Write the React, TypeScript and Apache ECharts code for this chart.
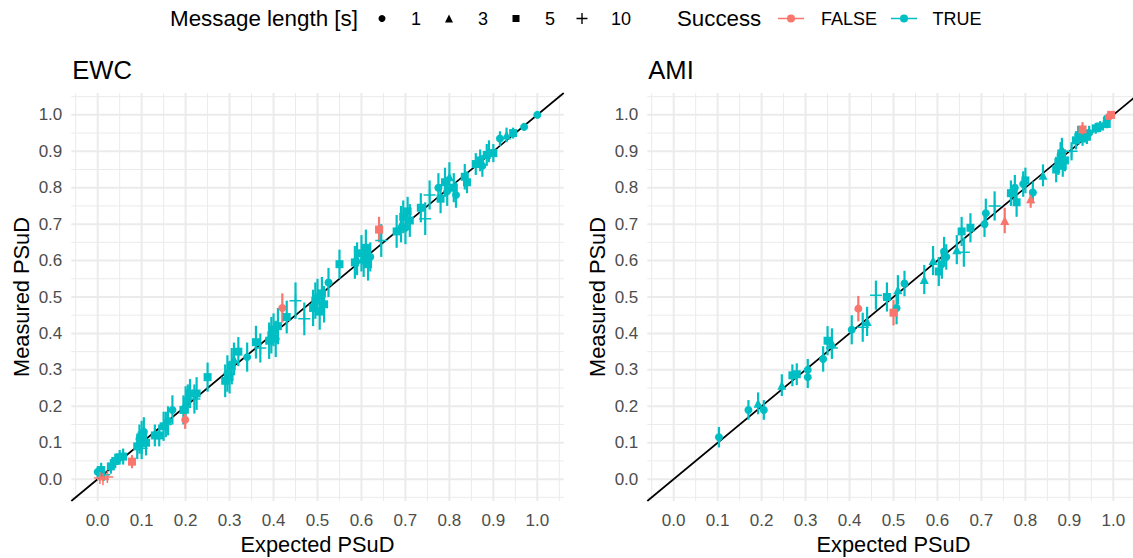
import React, { useEffect, useRef } from 'react';
import * as echarts from 'echarts';

const TEAL = '#00BFC4';
const RED = '#F8766D';
const FONT = '"Liberation Sans", Arial, Helvetica, sans-serif';

const axisMin = -0.06;
const axisMax = 1.06;
const majorTicks = [0, 0.1, 0.2, 0.3, 0.4, 0.5, 0.6, 0.7, 0.8, 0.9, 1.0];
const minorTicks = [-0.05, 0.05, 0.15, 0.25, 0.35, 0.45, 0.55, 0.65, 0.75, 0.85, 0.95, 1.05];
const panelTitles = ['EWC', 'AMI'];
const lengthLabels = ['1', '3', '5', '10'];
const successLabels = ['FALSE', 'TRUE'];

// [expected PSuD, measured PSuD, CI half-width, success (1 = TRUE, 0 = FALSE)]
const ewcLen1 = [
  [0.0, 0.02, 0.015, 1], [0.095, 0.11, 0.04, 1], [0.105, 0.13, 0.04, 1], [0.16, 0.16, 0.04, 1],
  [0.17, 0.19, 0.04, 1], [0.205, 0.22, 0.04, 1], [0.295, 0.29, 0.05, 1],
  [0.34, 0.335, 0.04, 1], [0.405, 0.385, 0.05, 1], [0.5, 0.5, 0.05, 1],
  [0.525, 0.54, 0.04, 1], [0.605, 0.6, 0.045, 1], [0.62, 0.61, 0.04, 1], [0.7, 0.69, 0.045, 1],
  [0.775, 0.8, 0.04, 1], [0.795, 0.79, 0.04, 1], [0.815, 0.78, 0.035, 1], [0.875, 0.86, 0.03, 1],
  [0.915, 0.935, 0.02, 1], [0.97, 0.967, 0.01, 1], [1.0, 1.0, 0.004, 1],
  [0.199, 0.163, 0.025, 0], [0.42, 0.47, 0.04, 0],
];
const ewcLen3 = [
  [0.1, 0.1, 0.03, 1], [0.2, 0.21, 0.045, 1], [0.31, 0.33, 0.045, 1], [0.59, 0.605, 0.045, 1],
  [0.69, 0.7, 0.05, 1], [0.8, 0.83, 0.04, 1], [0.89, 0.9, 0.03, 1], [0.93, 0.945, 0.02, 1],
];
const ewcLen5 = [
  [0.008, 0.025, 0.02, 1], [0.03, 0.035, 0.02, 1], [0.04, 0.05, 0.02, 1], [0.05, 0.06, 0.02, 1],
  [0.058, 0.062, 0.022, 1], [0.09, 0.09, 0.035, 1], [0.1, 0.12, 0.04, 1],
  [0.11, 0.1, 0.035, 1], [0.13, 0.12, 0.03, 1], [0.14, 0.12, 0.03, 1], [0.15, 0.145, 0.04, 1],
  [0.195, 0.19, 0.04, 1], [0.21, 0.235, 0.04, 1], [0.225, 0.235, 0.045, 1], [0.25, 0.28, 0.04, 1],
  [0.29, 0.27, 0.045, 1], [0.3, 0.28, 0.045, 1], [0.305, 0.31, 0.05, 1], [0.32, 0.35, 0.04, 1],
  [0.36, 0.376, 0.045, 1], [0.39, 0.38, 0.05, 1], [0.395, 0.395, 0.05, 1], [0.4, 0.41, 0.045, 1],
  [0.41, 0.42, 0.05, 1], [0.43, 0.445, 0.045, 1], [0.49, 0.47, 0.05, 1], [0.495, 0.49, 0.05, 1],
  [0.505, 0.46, 0.05, 1], [0.51, 0.51, 0.045, 1], [0.515, 0.48, 0.05, 1], [0.55, 0.59, 0.04, 1],
  [0.585, 0.595, 0.045, 1], [0.6, 0.62, 0.05, 1], [0.61, 0.635, 0.05, 1], [0.615, 0.59, 0.045, 1],
  [0.68, 0.68, 0.045, 1], [0.695, 0.72, 0.045, 1], [0.705, 0.735, 0.04, 1],
  [0.71, 0.71, 0.045, 1], [0.735, 0.745, 0.04, 1], [0.78, 0.77, 0.04, 1], [0.79, 0.815, 0.04, 1],
  [0.81, 0.8, 0.04, 1], [0.835, 0.83, 0.035, 1], [0.84, 0.815, 0.03, 1], [0.86, 0.865, 0.03, 1],
  [0.87, 0.875, 0.03, 1], [0.885, 0.89, 0.03, 1], [0.9, 0.895, 0.025, 1], [0.945, 0.95, 0.015, 1],
  [0.078, 0.048, 0.018, 0], [0.64, 0.685, 0.035, 0],
];
const ewcLen10 = [
  [0.015, 0.012, 0.01, 1], [0.1, 0.085, 0.03, 1], [0.155, 0.15, 0.035, 1],
  [0.22, 0.22, 0.04, 1], [0.37, 0.36, 0.04, 1], [0.45, 0.49, 0.05, 1], [0.47, 0.44, 0.045, 1],
  [0.645, 0.655, 0.045, 1], [0.745, 0.715, 0.045, 1], [0.755, 0.78, 0.04, 1],
  [0.005, 0.003, 0.008, 0], [0.012, 0.0, 0.006, 0], [0.022, 0.006, 0.01, 0],
];

const amiLen1 = [
  [0.103, 0.115, 0.028, 1], [0.17, 0.19, 0.027, 1], [0.205, 0.19, 0.027, 1], [0.305, 0.3, 0.03, 1],
  [0.305, 0.28, 0.03, 1], [0.34, 0.33, 0.035, 1], [0.405, 0.41, 0.04, 1],
  [0.507, 0.47, 0.045, 1], [0.525, 0.537, 0.035, 1], [0.61, 0.59, 0.04, 1], [0.615, 0.625, 0.04, 1],
  [0.62, 0.61, 0.035, 1], [0.707, 0.7, 0.035, 1], [0.71, 0.73, 0.04, 1], [0.776, 0.8, 0.035, 1],
  [0.795, 0.81, 0.035, 1], [0.817, 0.787, 0.03, 1], [0.88, 0.89, 0.035, 1], [0.92, 0.945, 0.025, 1],
  [0.945, 0.95, 0.02, 1], [0.985, 0.99, 0.008, 1],
  [0.42, 0.468, 0.035, 0], [0.99, 0.995, 0.006, 0],
];
const amiLen3 = [
  [0.192, 0.208, 0.03, 1], [0.246, 0.258, 0.03, 1], [0.36, 0.374, 0.04, 1], [0.44, 0.433, 0.04, 1],
  [0.51, 0.52, 0.04, 1], [0.57, 0.548, 0.04, 1], [0.59, 0.6, 0.04, 1], [0.644, 0.63, 0.04, 1],
  [0.84, 0.834, 0.03, 1], [0.883, 0.907, 0.03, 1],
  [0.753, 0.71, 0.035, 0], [0.812, 0.77, 0.025, 0],
];
const amiLen5 = [
  [0.27, 0.285, 0.03, 1], [0.28, 0.288, 0.03, 1], [0.35, 0.38, 0.04, 1], [0.485, 0.5, 0.04, 1],
  [0.603, 0.57, 0.04, 1], [0.655, 0.68, 0.04, 1], [0.675, 0.69, 0.04, 1],
  [0.767, 0.785, 0.035, 1], [0.78, 0.76, 0.04, 1], [0.8, 0.82, 0.035, 1], [0.87, 0.85, 0.035, 1],
  [0.875, 0.87, 0.035, 1], [0.885, 0.86, 0.03, 1], [0.89, 0.875, 0.03, 1], [0.915, 0.93, 0.025, 1],
  [0.93, 0.935, 0.02, 1], [0.94, 0.94, 0.02, 1], [0.96, 0.963, 0.015, 1],
  [0.97, 0.968, 0.015, 1], [0.985, 0.975, 0.012, 1],
  [0.5, 0.457, 0.035, 0], [0.93, 0.96, 0.02, 0], [0.995, 1.0, 0.005, 0],
];
const amiLen10 = [
  [0.36, 0.36, 0.03, 1], [0.43, 0.417, 0.04, 1], [0.46, 0.505, 0.04, 1], [0.66, 0.623, 0.04, 1],
  [0.73, 0.75, 0.04, 1], [0.905, 0.9, 0.025, 1],
];

const PLUS = 'path://M0,5.25H12V6.75H0Z M5.25,0H6.75V12H5.25Z';
const SUCCESS_ICON = 'path://M0,4.3H26V5.7H0Z M9,5A4,4 0 1,1 17,5A4,4 0 1,1 9,5Z';
const SYMBOLS = ['circle', 'triangle', 'rect', PLUS];
const SIZES = [8, 9, 8, 12];

const panelSets = [
  [ewcLen1, ewcLen3, ewcLen5, ewcLen10],
  [amiLen1, amiLen3, amiLen5, amiLen10],
];

const GRID_LEFT = [71.3, 647.3];
const GRID_TOP = 93;
const GRID_W = 492.4;
const GRID_H = 408;

// legend layout: [left, iconWidth, iconHeight, text padding]
const LEN_LEGEND_POS = [[378.5, 7, 7, 20.5], [445, 8, 8, 20], [512.5, 7, 7, 20.5], [576.5, 11, 11, 18.5]];
const SUCCESS_LEGEND_POS = [[778, 26, 9, 12], [891, 26, 9, 10.6]];

function buildOption() {
  const grids: any[] = [];
  const xAxes: any[] = [];
  const yAxes: any[] = [];
  const series: any[] = [];
  const graphics: any[] = [];

  const tickLabel = { fontSize: 17, color: '#4D4D4D', fontFamily: FONT };
  const nameStyle = { fontSize: 21.8, color: '#000000', fontFamily: FONT };

  panelSets.forEach((sets, p) => {
    grids.push({
      left: GRID_LEFT[p], top: GRID_TOP, width: GRID_W, height: GRID_H,
      containLabel: false, outerBoundsMode: 'none',
    });
    xAxes.push({
      type: 'value', gridIndex: p, min: axisMin, max: axisMax,
      axisLine: { show: false }, axisTick: { show: false }, splitLine: { show: false },
      axisLabel: { ...tickLabel, margin: 11, customValues: majorTicks, formatter: (v: number) => v.toFixed(1) },
      name: 'Expected PSuD', nameLocation: 'middle', nameGap: 32.5, nameTextStyle: nameStyle,
    });
    yAxes.push({
      type: 'value', gridIndex: p, min: axisMin, max: axisMax,
      axisLine: { show: false }, axisTick: { show: false }, splitLine: { show: false },
      axisLabel: { ...tickLabel, margin: 9, customValues: majorTicks, formatter: (v: number) => v.toFixed(1) },
      name: 'Measured PSuD', nameLocation: 'middle', nameGap: 38.5, nameTextStyle: nameStyle,
    });

    // grid lines
    series.push({
      type: 'custom', xAxisIndex: p, yAxisIndex: p, silent: true, z: 0,
      encode: { x: 0, y: 1 },
      data: minorTicks.map((v) => [v, v, 0]).concat(majorTicks.map((v) => [v, v, 1])),
      renderItem: (params: any, api: any) => {
        const cs = params.coordSys;
        const pt = api.coord([api.value(0), api.value(1)]);
        const major = api.value(2) === 1;
        const style = { stroke: '#EBEBEB', lineWidth: major ? 2 : 1 };
        return {
          type: 'group',
          children: [
            { type: 'line', shape: { x1: pt[0], y1: cs.y, x2: pt[0], y2: cs.y + cs.height }, style },
            { type: 'line', shape: { x1: cs.x, y1: pt[1], x2: cs.x + cs.width, y2: pt[1] }, style },
          ],
        };
      },
    });

    // identity line
    series.push({
      type: 'line', xAxisIndex: p, yAxisIndex: p, silent: true, z: 1,
      data: [[axisMin, axisMin], [axisMax, axisMax]],
      showSymbol: false, symbol: 'none',
      lineStyle: { color: '#000000', width: 1.7 },
    });

    // error bars
    [1, 0].forEach((ok) => {
      const pts: number[][] = [];
      sets.forEach((set) => set.forEach((d) => { if (d[3] === ok) pts.push([d[0], d[1] - d[2], d[1] + d[2]]); }));
      const color = ok ? TEAL : RED;
      series.push({
        type: 'custom', name: successLabels[ok], xAxisIndex: p, yAxisIndex: p, silent: true, z: 2,
        itemStyle: { color }, encode: { x: 0, y: [1, 2] }, data: pts,
        renderItem: (params: any, api: any) => {
          const a = api.coord([api.value(0), api.value(1)]);
          const b = api.coord([api.value(0), api.value(2)]);
          return { type: 'line', shape: { x1: a[0], y1: a[1], x2: b[0], y2: b[1] }, style: { stroke: color, lineWidth: 2.2 } };
        },
      });
    });

    // points
    sets.forEach((set, i) => {
      series.push({
        type: 'scatter', name: lengthLabels[i], xAxisIndex: p, yAxisIndex: p, silent: true, z: 3,
        symbol: SYMBOLS[i], symbolSize: SIZES[i],
        data: set.map((d) => [d[0], d[1], d[3]]),
        itemStyle: { opacity: 1, color: (params: any) => (params.data[2] ? TEAL : RED) },
      });
    });

    graphics.push({
      type: 'text', x: GRID_LEFT[p] + 1, y: 70,
      style: { text: panelTitles[p], fontSize: 25.6, fontFamily: FONT, fill: '#000000', verticalAlign: 'middle', align: 'left' },
    });
  });

  graphics.push({
    type: 'text', x: 170, y: 18,
    style: { text: 'Message length [s]', fontSize: 22.4, fontFamily: FONT, fill: '#000000', verticalAlign: 'middle' },
  });
  graphics.push({
    type: 'text', x: 677, y: 18,
    style: { text: 'Success', fontSize: 22.3, fontFamily: FONT, fill: '#000000', verticalAlign: 'middle' },
  });

  const legends: any[] = [];
  lengthLabels.forEach((n, i) => {
    const [left, w, h, pad] = LEN_LEGEND_POS[i];
    legends.push({
      left, top: 9.5, padding: 0, itemWidth: w, itemHeight: h, selectedMode: false,
      textStyle: { fontSize: 18, fontFamily: FONT, color: '#000000', padding: [0, 0, 0, pad] },
      data: [{ name: n, icon: SYMBOLS[i], itemStyle: { color: '#000000' } }],
    });
  });
  successLabels.forEach((n, i) => {
    const [left, w, h, pad] = SUCCESS_LEGEND_POS[i];
    legends.push({
      left, top: 9.5, padding: 0, itemWidth: w, itemHeight: h, selectedMode: false,
      textStyle: { fontSize: 18, fontFamily: FONT, color: '#000000', padding: [0, 0, 0, pad] },
      data: [{ name: n, icon: SUCCESS_ICON, itemStyle: { color: i ? TEAL : RED } }],
    });
  });

  return {
    animation: false,
    backgroundColor: '#FFFFFF',
    grid: grids,
    xAxis: xAxes,
    yAxis: yAxes,
    series,
    graphic: graphics,
    legend: legends,
  };
}

export default function App() {
  const ref = useRef<HTMLDivElement>(null);
  useEffect(() => {
    if (!ref.current) return;
    const chart = echarts.init(ref.current, undefined, { renderer: 'svg' });
    chart.setOption(buildOption() as any);
    return () => chart.dispose();
  }, []);
  return (
    <div
      ref={ref}
      style={{ position: 'fixed', left: 0, top: 0, width: 1133, height: 558, background: '#fff' }}
    />
  );
}
